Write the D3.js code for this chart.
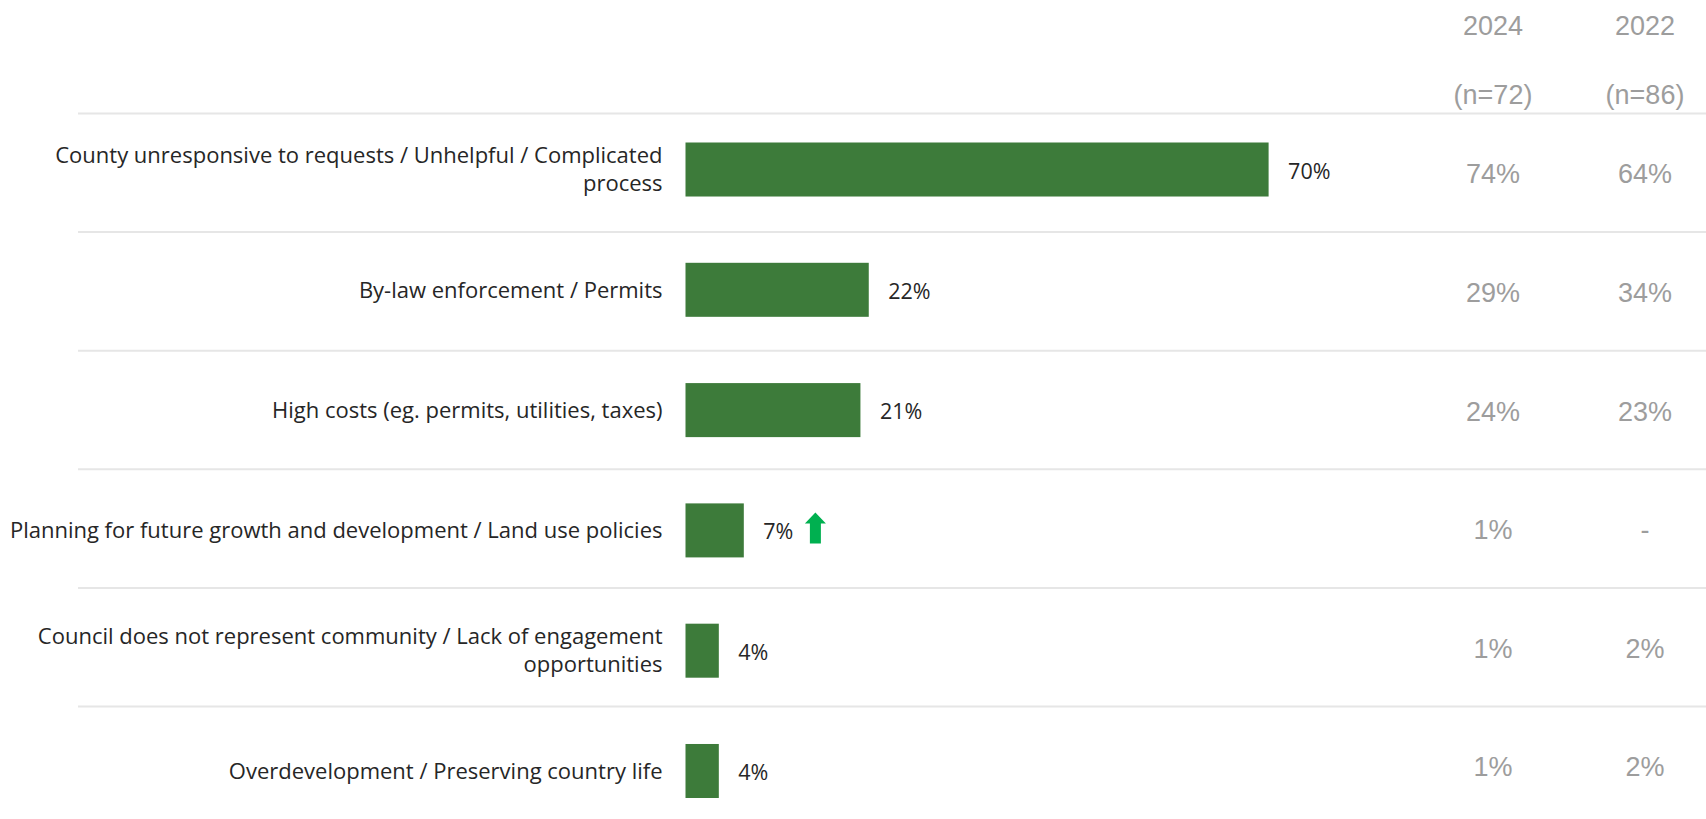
<!DOCTYPE html>
<html>
<head>
<meta charset="utf-8">
<script src="https://cdn.jsdelivr.net/npm/d3@7"></script>
<style>
  html, body { margin: 0; padding: 0; background: #ffffff; }
  svg { display: block; }
</style>
</head>
<body>
<svg id="chart" width="1706" height="819"></svg>
<script>
// Issues raised, current wave (bars) with earlier waves shown as columns
const categories = [
  "County unresponsive to requests / Unhelpful / Complicated\nprocess",
  "By-law enforcement / Permits",
  "High costs (eg. permits, utilities, taxes)",
  "Planning for future growth and development / Land use policies",
  "Council does not represent community / Lack of engagement\nopportunities",
  "Overdevelopment / Preserving country life"
];
const currentValues = [70, 22, 21, 7, 4, 4];
const values2024 = [74, 29, 24, 1, 1, 1];
const values2022 = [64, 34, 23, null, 2, 2];
const significantUp = [false, false, false, true, false, false];
const columnYears = ["2024", "2022"];
const columnBases = ["(n=72)", "(n=86)"];

const W = 1706, H = 819;
const svg = d3.select("#chart");

const labelFont = "'Open Sans', sans-serif";
const colFont = "'Liberation Sans', Arial, sans-serif";

// Bar geometry
const x = d3.scaleLinear().domain([0, 100]).range([685.5, 1518.5]);
const y = d3.scaleBand()
  .domain(d3.range(categories.length))
  .range([142.5, 798])
  .paddingInner(0.551)
  .paddingOuter(0);
// Table rows (separator lines and comparison columns)
const rowTop = 113.5, rowStep = 118.6;
const colX = [1493, 1645];

// Row separators
svg.append("g").selectAll("line")
  .data(d3.range(categories.length))
  .join("line")
  .attr("x1", 78).attr("x2", W)
  .attr("y1", i => rowTop + i * rowStep)
  .attr("y2", i => rowTop + i * rowStep)
  .attr("stroke", "#e6e6e6")
  .attr("stroke-width", 2);

// Bars
svg.append("g").selectAll("rect")
  .data(currentValues)
  .join("rect")
  .attr("x", x(0))
  .attr("y", (d, i) => y(i))
  .attr("width", d => x(d) - x(0))
  .attr("height", y.bandwidth())
  .attr("fill", "#3d7b3a");

// Category labels (right aligned, multi-line)
const cat = svg.append("g").selectAll("text")
  .data(categories)
  .join("text")
  .attr("text-anchor", "end")
  .attr("font-family", labelFont)
  .attr("font-size", 22)
  .attr("fill", "#262626")
  .attr("transform", (d, i) => `translate(662.5,${y(i) + y.bandwidth() / 2})`);
cat.each(function(d) {
  const lines = d.split("\n");
  const lh = 28;
  d3.select(this).selectAll("tspan")
    .data(lines)
    .join("tspan")
    .attr("x", 0)
    .attr("y", (l, k) => (k - (lines.length - 1) / 2) * lh)
    .attr("dy", "0.35em")
    .text(l => l);
});

// Value labels at bar ends
svg.append("g").selectAll("text")
  .data(currentValues)
  .join("text")
  .attr("x", d => x(d) + 19.5)
  .attr("y", (d, i) => y(i) + y.bandwidth() / 2 + 1.5)
  .attr("dy", "0.35em")
  .attr("font-family", labelFont)
  .attr("font-size", 21.5)
  .attr("fill", "#262626")
  .text(d => d + "%")
  .each(function(d, i) {
    if (!significantUp[i]) return;
    const bb = this.getBBox();
    const ax = bb.x + bb.width + 22, cy = y(i) + y.bandwidth() / 2;
    // upward arrow marking a significant increase
    const hw = 10.5, sw = 5.5, top = cy - 18, headB = cy - 7, bot = cy + 13;
    svg.append("path")
      .attr("d", `M${ax},${top} L${ax + hw},${headB} L${ax + sw},${headB} L${ax + sw},${bot} L${ax - sw},${bot} L${ax - sw},${headB} L${ax - hw},${headB} Z`)
      .attr("fill", "#00b050");
  });

// Comparison column headers
const hdr = svg.append("g").selectAll("g")
  .data(columnYears)
  .join("g");
hdr.append("text")
  .attr("x", (d, j) => colX[j]).attr("y", 26)
  .attr("dy", "0.35em")
  .attr("text-anchor", "middle")
  .attr("font-family", colFont).attr("font-size", 27)
  .attr("fill", "#9d9d9d")
  .text(d => d);
hdr.append("text")
  .attr("x", (d, j) => colX[j]).attr("y", 95)
  .attr("dy", "0.35em")
  .attr("text-anchor", "middle")
  .attr("font-family", colFont).attr("font-size", 27)
  .attr("fill", "#9d9d9d")
  .text((d, j) => columnBases[j]);

// Comparison column values
[values2024, values2022].forEach((vals, j) => {
  svg.append("g").selectAll("text")
    .data(vals)
    .join("text")
    .attr("x", colX[j])
    .attr("y", (d, i) => rowTop + i * rowStep + 60.5)
    .attr("dy", "0.35em")
    .attr("text-anchor", "middle")
    .attr("font-family", colFont).attr("font-size", 27)
    .attr("fill", "#9d9d9d")
    .text(d => d == null ? "-" : d + "%");
});
</script>
</body>
</html>
